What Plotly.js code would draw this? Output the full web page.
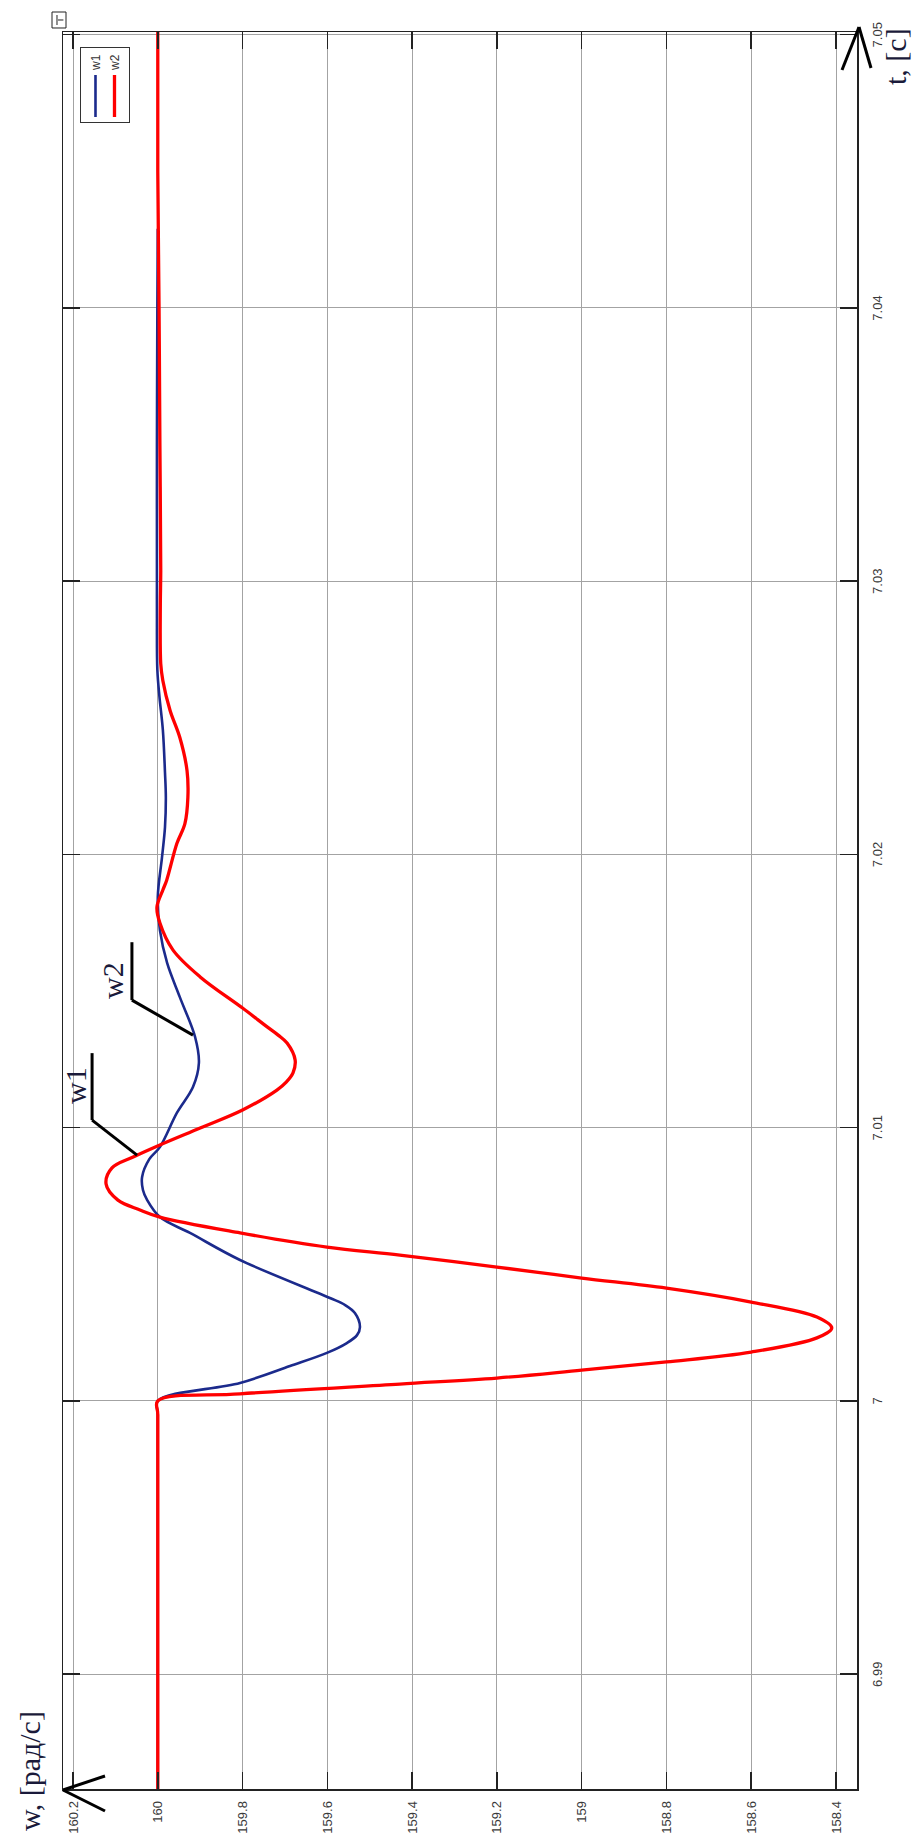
<!DOCTYPE html>
<html><head><meta charset="utf-8">
<script src="https://cdn.plot.ly/plotly-3.0.1.min.js"></script>
<style>
html,body{margin:0;padding:0;background:#fff;width:916px;height:1840px;overflow:hidden;}
#wrap{position:absolute;left:0;top:0;width:1840px;height:916px;transform-origin:0 0;transform:translateY(1840px) rotate(-90deg);}
</style></head><body>
<div id="wrap"><div id="chart" style="width:1840px;height:916px;"></div></div>
<script>
// time, s
const tW1 = [6.9858, 6.9995, 7.0, 7.00066, 7.00128, 7.00176, 7.00212, 7.00241, 7.00271, 7.00322, 7.00351, 7.00377, 7.00516, 7.00615, 7.00673, 7.00735, 7.00772, 7.0082, 7.00885, 7.00929, 7.01054, 7.01149, 7.01237, 7.01332, 7.01478, 7.01603, 7.01723, 7.01844, 7.0199, 7.021, 7.0221, 7.0230, 7.02455, 7.02576, 7.02675, 7.02883, 7.03004, 7.0350, 7.0400, 7.0429];
const w1  = [160.0, 160.0, 160.0, 159.806, 159.688, 159.601, 159.554, 159.53, 159.523, 159.535, 159.558, 159.594, 159.806, 159.924, 159.995, 160.025, 160.035, 160.037, 160.02, 159.995, 159.955, 159.917, 159.903, 159.912, 159.948, 159.978, 159.995, 160.0, 159.99, 159.983, 159.981, 159.983, 159.988, 159.996, 160.001, 160.002, 160.002, 160.002, 160.001, 160.0];

const tW2 = [6.9858, 6.9995, 7.0, 7.00026, 7.00062, 7.00084, 7.00113, 7.00143, 7.00179, 7.00231, 7.00267, 7.00307, 7.00362, 7.00413, 7.0045, 7.0049, 7.00534, 7.00563, 7.00615, 7.00673, 7.00699, 7.00735, 7.00794, 7.00853, 7.00893, 7.00937, 7.00999, 7.01065, 7.01138, 7.01167, 7.01201, 7.01248, 7.0131, 7.01339, 7.01369, 7.01438, 7.01552, 7.0165, 7.01749, 7.01807, 7.0187, 7.01906, 7.0204, 7.02113, 7.02209, 7.02307, 7.02428, 7.02527, 7.02636, 7.02698, 7.02917, 7.03038, 7.035, 7.040, 7.045, 7.0501];
const w2  = [160.0, 160.0, 160.0, 159.806, 159.429, 159.2, 159.0, 158.8, 158.6, 158.445, 158.41, 158.445, 158.6, 158.8, 159.0, 159.2, 159.429, 159.601, 159.806, 159.995, 160.042, 160.094, 160.122, 160.108, 160.058, 159.995, 159.9, 159.8, 159.719, 159.697, 159.681, 159.676, 159.695, 159.716, 159.742, 159.8, 159.9, 159.964, 159.995, 160.002, 159.988, 159.979, 159.955, 159.936, 159.929, 159.931, 159.948, 159.971, 159.988, 159.993, 159.994, 159.993, 159.995, 159.997, 160.0, 160.0];

const tTickVals = [6.99, 7.0, 7.01, 7.02, 7.03, 7.04, 7.05];
const tTickText = ['6.99', '7', '7.01', '7.02', '7.03', '7.04', '7.05'];
const wTickVals = [158.4, 158.6, 158.8, 159.0, 159.2, 159.4, 159.6, 159.8, 160.0, 160.2];
const wTickText = ['158.4', '158.6', '158.8', '159', '159.2', '159.4', '159.6', '159.8', '160', '160.2'];

// callout leaders (t, w)
const leaderW1T = [7.01273, 7.01028, 7.0090];
const leaderW1W = [160.155, 160.155, 160.049];
const leaderW2T = [7.01679, 7.01467, 7.01339];
const leaderW2W = [160.061, 160.061, 159.917];

const traces = [
  {x: tW1, y: w1, type: 'scatter', mode: 'lines', name: 'w1',
   line: {color: '#1b2a8c', width: 2.6, shape: 'spline', smoothing: 1}},
  {x: tW2, y: w2, type: 'scatter', mode: 'lines', name: 'w2',
   line: {color: '#ff0000', width: 3.3, shape: 'spline', smoothing: 1}}
];

function leaderShapes(T, W) {
  const s = [];
  for (let i = 0; i < T.length - 1; i++) {
    s.push({type: 'line', xref: 'x', yref: 'y', x0: T[i], y0: W[i], x1: T[i+1], y1: W[i+1],
            line: {color: '#000', width: 3}});
  }
  return s;
}

const axisCommon = {
  ticks: 'inside', ticklen: 17, tickwidth: 1.5, tickcolor: '#222',
  showline: true, linecolor: '#222', linewidth: 1.5, mirror: 'ticks',
  showgrid: true, gridcolor: '#a3a3a3', gridwidth: 1, zeroline: false,
  tickfont: {family: 'Liberation Sans, Arial, sans-serif', size: 13, color: '#3a3a3a'},
  ticklabelstandoff: 8, fixedrange: true
};

const blk = {color: '#000', width: 3};
const shapes = [
  ...leaderShapes(leaderW1T, leaderW1W),
  ...leaderShapes(leaderW2T, leaderW2W),
  // axis arrow heads
  {type: 'line', xref: 'paper', yref: 'paper', x0: -0.00057, y0: 1.0, x1: 0.0074, y1: 0.9471, line: blk},
  {type: 'line', xref: 'paper', yref: 'paper', x0: -0.00057, y0: 1.0, x1: -0.01252, y1: 0.9471, line: blk},
  {type: 'line', xref: 'paper', yref: 'paper', x0: 1.00285, y0: -0.00252, x1: 0.97837, y1: 0.01889, line: blk},
  {type: 'line', xref: 'paper', yref: 'paper', x0: 1.00285, y0: -0.00252, x1: 0.97951, y1: -0.01763, line: blk},
  // small corner icon
  {type: 'rect', xref: 'paper', yref: 'paper', x0: 1.00228, x1: 1.01138, y0: 0.99622, y1: 1.01385, line: {color: '#222', width: 1}, fillcolor: '#fff'},
  {type: 'line', xref: 'paper', yref: 'paper', x0: 1.00398, x1: 1.00967, y0: 1.00756, y1: 1.00756, line: {color: '#222', width: 1}},
  {type: 'line', xref: 'paper', yref: 'paper', x0: 1.00683, x1: 1.00683, y0: 1.0063, y1: 0.9995, line: {color: '#222', width: 1}}
];

const serif = 'Liberation Serif, Times New Roman, serif';
const annotations = [
  {text: 'w1', xref: 'x', yref: 'y', x: 7.01156, y: 160.193, showarrow: false,
   font: {family: serif, size: 30, color: '#1a1a3a'}},
  {text: 'w2', xref: 'x', yref: 'y', x: 7.0154, y: 160.106, showarrow: false,
   font: {family: serif, size: 30, color: '#1a1a3a'}},
  {text: 'w, [рад/с]', xref: 'paper', yref: 'paper', x: -0.025, y: 1.0428, xanchor: 'left', yanchor: 'middle',
   showarrow: false, font: {family: serif, size: 30, color: '#1a1a3a'}},
  {text: 't, [с]', xref: 'paper', yref: 'paper', x: 0.9863, y: -0.049, xanchor: 'center', yanchor: 'middle',
   showarrow: false, font: {family: serif, size: 30, color: '#1a1a3a'}}
];

const layout = {
  width: 1840, height: 916,
  margin: {l: 51, r: 32, t: 63, b: 59},
  paper_bgcolor: '#fff', plot_bgcolor: '#fff',
  showlegend: true,
  legend: {x: 0.9915, xanchor: 'right', y: 0.9786, yanchor: 'top', bgcolor: '#fff',
           bordercolor: '#333', borderwidth: 1, tracegroupgap: 0, itemwidth: 42,
           font: {family: 'Liberation Sans, Arial, sans-serif', size: 12, color: '#333'}},
  xaxis: Object.assign({}, axisCommon, {range: [6.9858, 7.0501], tickvals: tTickVals, ticktext: tTickText}),
  yaxis: Object.assign({}, axisCommon, {range: [158.3505, 160.2236], tickvals: wTickVals, ticktext: wTickText}),
  shapes: shapes,
  annotations: annotations
};

Plotly.newPlot('chart', traces, layout, {staticPlot: true, displayModeBar: false});
</script>
</body></html>
